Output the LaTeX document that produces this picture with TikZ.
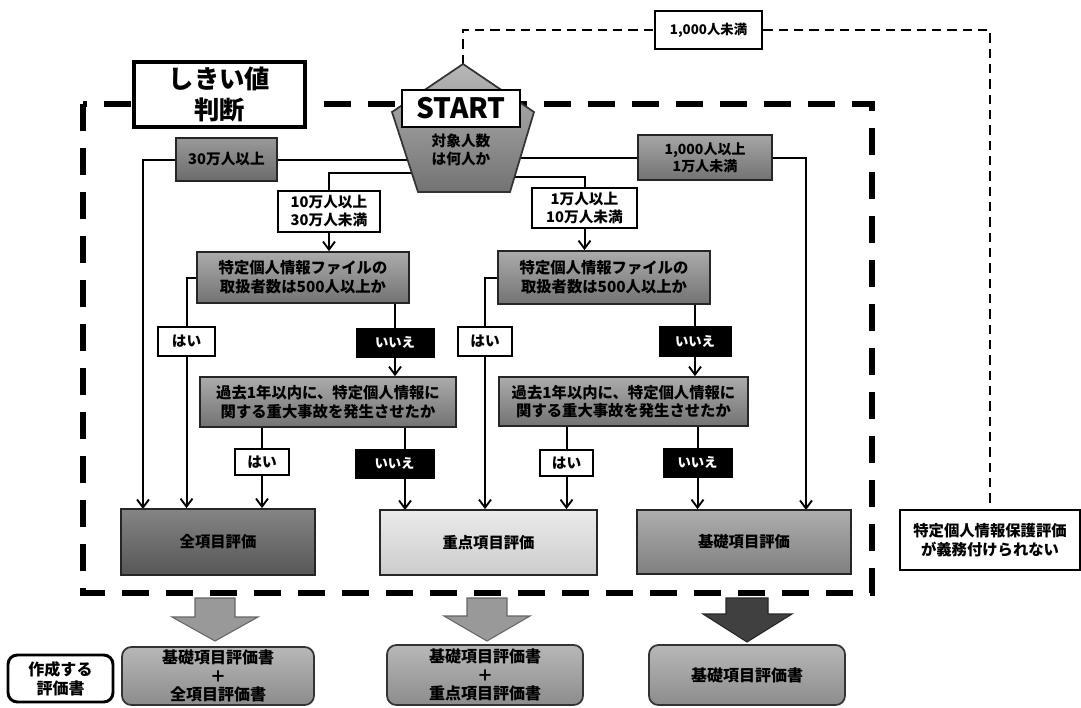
\documentclass[tikz,border=0pt]{standalone}
\usepackage{fontspec}
\setmainfont{Noto Sans CJK JP}
\usetikzlibrary{arrows.meta}
\pgfdeclarelayer{bg}
\pgfsetlayers{bg,main}
\newcommand\fsz[2]{\fontsize{#1}{#2}\selectfont}
\newcommand\boxat[7]{\node[#1, minimum width={(#5-#3)*0.75pt}, minimum height={(#6-#4)*0.75pt}, inner sep=0pt] (#2) at ({(#3+#5)/2},{(#4+#6)/2}) {#7};}
\tikzset{
  conn/.style={line width=1.5pt, draw=black},
  arr/.style={-{Straight Barb[length=6pt,width=9pt,line width=1.4pt]}},
  gbox/.style={draw=black!85, line width=1.3pt, top color=black!33, bottom color=black!55, font=\bfseries\fsz{11.5}{14}, align=center},
  wbox/.style={draw=black, line width=2.2pt, fill=white, font=\bfseries\fsz{11}{13.5}, align=center},
  hbox/.style={draw=black, line width=1.8pt, fill=white, font=\bfseries\fsz{11}{13}, align=center},
  bbox/.style={draw=black, fill=black, text=white, font=\bfseries\fsz{10}{12}, align=center},
  rbox/.style={draw=black!80, line width=1.3pt, rounded corners=7pt, top color=black!28, bottom color=black!45, font=\bfseries\fsz{12}{14}, align=center},
  pent/.style={draw=black!80, line width=1.3pt, top color=black!28, bottom color=black!55},
  bigdash/.style={line width=3.8pt, dash pattern=on 20pt off 13pt},
  thindash/.style={line width=1.8pt, dash pattern=on 7pt off 4.5pt},
  blockarr/.style={draw=black!60, line width=0.8pt, fill=black!40},
  darkarr/.style={draw=black!85, line width=0.8pt, fill=black!75},
}
\begin{document}
\begin{tikzpicture}[x=0.75pt, y=-0.75pt]
\useasboundingbox (0,0) rectangle (1081,707);

% large dashed frame
\draw[bigdash] (83,104) rectangle (872,593);

% pentagon
\draw[pent] (463,64) -- (534,112) -- (510,192) -- (418,192) -- (392,112) -- cycle;
\coordinate (pc) at (463,150);
\coordinate (apex) at (463,64);
\coordinate (p10) at (463,173);
\coordinate (p1) at (463,177);
\coordinate (zenA) at (143,509);
\coordinate (kisoB) at (806,510);
\coordinate (jyuA) at (405,510);

\boxat{wbox,line width=3pt,font=\bfseries\fsz{19}{23}}{thr}{134}{62}{305}{127}{しきい値\\判断}
\boxat{wbox,font=\bfseries\fsz{21}{24}}{start}{402}{90}{520}{127}{START}
\node[font=\bfseries\fsz{11}{13.5}, align=center] (tq) at (461,150) {対象人数\\は何人か};

\boxat{gbox,top color=black!40,bottom color=black!58,font=\bfseries\fsz{11}{13}}{k30}{176}{138}{277}{181}{30万人以上}
\boxat{wbox}{k10}{278}{191}{380}{232}{10万人以上\\30万人未満}
\boxat{wbox}{k1}{532}{188}{637}{228}{1万人以上\\10万人未満}
\boxat{gbox,top color=black!35,bottom color=black!55,font=\bfseries\fsz{10.5}{13}}{k1000}{638}{135}{772}{180}{1,000人以上\\1万人未満}

\boxat{gbox}{tok1}{197}{252}{409}{303}{特定個人情報ファイルの\\取扱者数は500人以上か}
\boxat{gbox}{tok2}{498}{251}{710}{304}{特定個人情報ファイルの\\取扱者数は500人以上か}

\boxat{hbox}{hai1}{158}{327}{215}{356}{はい}
\boxat{bbox}{iie1}{356}{328}{434}{357}{いいえ}
\boxat{gbox}{kako1}{200}{377}{456}{427}{過去1年以内に、特定個人情報に\\関する重大事故を発生させたか}
\boxat{hbox}{hai1b}{235}{449}{289}{475}{はい}
\boxat{bbox}{iie1b}{355}{449}{434}{478}{いいえ}

\boxat{hbox}{hai2}{458}{327}{512}{356}{はい}
\boxat{bbox}{iie2}{659}{326}{731}{356}{いいえ}
\boxat{gbox}{kako2}{499}{377}{748}{426}{過去1年以内に、特定個人情報に\\関する重大事故を発生させたか}
\boxat{hbox}{hai2b}{540}{450}{593}{476}{はい}
\boxat{bbox}{iie2b}{663}{448}{732}{477}{いいえ}

\boxat{gbox,top color=black!48,bottom color=black!66}{zen}{121}{509}{315}{575}{全項目評価}
\boxat{gbox,top color=black!8,bottom color=black!20}{jyu}{380}{510}{597}{575}{重点項目評価}
\boxat{gbox,top color=black!32,bottom color=black!50}{kiso}{637}{510}{851}{574}{基礎項目評価}

\boxat{hbox,font=\bfseries\fsz{10}{12}}{kmu}{655}{11}{762}{49}{1,000人未満}
\boxat{wbox,font=\bfseries\fsz{11.5}{14}}{hogo}{900}{510}{1080}{570}{特定個人情報保護評価\\が義務付けられない}

% block arrows
\draw[blockarr] (195,598) -- (235,598) -- (235,617) -- (258,617) -- (215,641) -- (172,617) -- (195,617) -- cycle;
\draw[blockarr] (467,598) -- (507,598) -- (507,616) -- (530,616) -- (487,641) -- (444,616) -- (467,616) -- cycle;
\draw[darkarr] (726,598) -- (768,598) -- (768,614) -- (792,614) -- (747,642) -- (703,614) -- (726,614) -- cycle;

% result boxes
\boxat{wbox,rounded corners=7pt,font=\bfseries\fsz{12}{14.5}}{sak}{8}{655}{113}{702}{作成する\\評価書}
\boxat{rbox}{b1}{122}{647}{314}{705}{基礎項目評価書\\＋\\全項目評価書}
\boxat{rbox}{b2}{387}{645}{583}{705}{基礎項目評価書\\＋\\重点項目評価書}
\boxat{rbox}{b3}{649}{645}{845}{705}{基礎項目評価書}

\begin{pgfonlayer}{bg}
\draw[conn,arr] (pc |- k30) -| (zenA);
\draw[conn] (p10) -| (k10.north);
\draw[conn,arr] (k10.south) -- (k10.south |- tok1.north);
\draw[conn,arr] (pc |- k1000) -| (kisoB);
\draw[conn] (p1) -| (k1.north);
\draw[conn,arr] (k1.south) -- (k1.south |- tok2.north);
\draw[conn,arr] (tok1.west) -| (hai1 |- zen.north);
\draw[conn,arr] (tok1.south -| iie1) -- (kako1.north -| iie1);
\draw[conn,arr] (kako1.south -| hai1b) -- (zen.north -| hai1b);
\draw[conn,arr] (kako1.south -| jyuA) -- (jyuA);
\draw[conn,arr] (tok2.west) -| (hai2 |- jyu.north);
\draw[conn,arr] (tok2.south -| iie2) -- (kako2.north -| iie2);
\draw[conn,arr] (kako2.south -| hai2b) -- (jyu.north -| hai2b);
\draw[conn,arr] (kako2.south -| iie2b) -- (kiso.north -| iie2b);
\draw[thindash] (apex) |- (kmu.west);
\draw[thindash] (kmu.east) -| (hogo.north);
\end{pgfonlayer}
\end{tikzpicture}
\end{document}
